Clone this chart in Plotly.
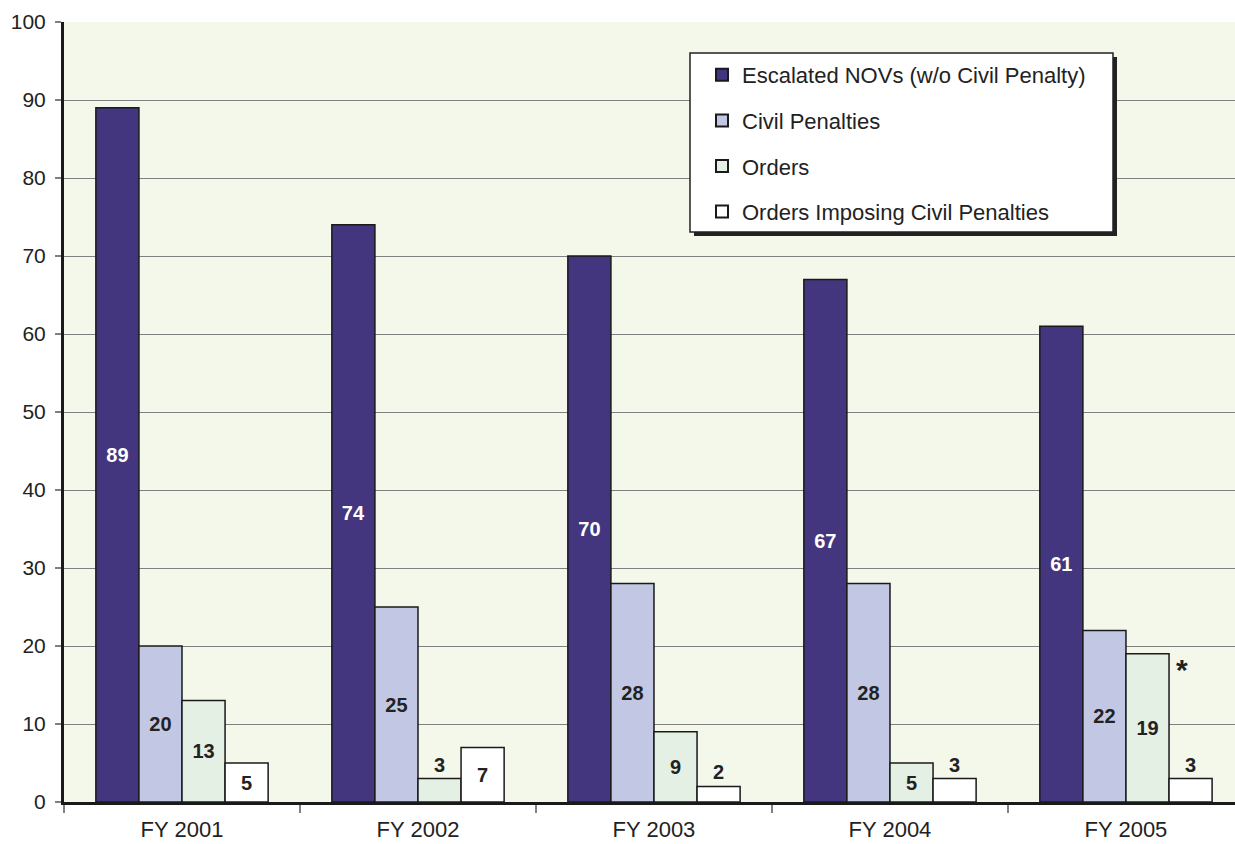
import plotly.graph_objects as go

categories = ["FY 2001", "FY 2002", "FY 2003", "FY 2004", "FY 2005"]
escalated_novs = [89, 74, 70, 67, 61]
civil_penalties = [20, 25, 28, 28, 22]
orders = [13, 3, 9, 5, 19]
orders_imposing = [5, 7, 2, 3, 3]

series = [
    ("Escalated NOVs (w/o Civil Penalty)", escalated_novs, "#43357E", "white"),
    ("Civil Penalties", civil_penalties, "#C2C8E3", "#222222"),
    ("Orders", orders, "#E5F0E4", "#222222"),
    ("Orders Imposing Civil Penalties", orders_imposing, "#FFFFFF", "#222222"),
]

FONT = "Arial, Liberation Sans, sans-serif"

fig = go.Figure()
for i, (name, vals, color, tcolor) in enumerate(series):
    positions = ["inside" if v >= 5 else "outside" for v in vals]
    fig.add_trace(go.Bar(
        x=categories, y=vals, name=name,
        marker=dict(color=color, line=dict(color="#1a1a1a", width=1.5)),
        text=[str(v) for v in vals],
        textposition=positions,
        insidetextanchor="middle",
        textangle=0,
        insidetextfont=dict(family=FONT, size=20, color=tcolor, weight="bold"),
        outsidetextfont=dict(family=FONT, size=20, color="#222222", weight="bold"),
        cliponaxis=False,
        legendgroup=f"g{i}",
    ))

# asterisk next to FY 2005 Orders bar
fig.add_annotation(x=categories[4], y=orders[4], xref="x", yref="y",
                   text="*", showarrow=False, xshift=56, yshift=-16,
                   font=dict(family=FONT, size=30, color="#222222", weight="bold"))

# legend box with shadow (pixel positions converted to paper coords)
px_w = 1235 - 64
px_h = 802 - 22
def px(xp):
    return (xp - 64) / px_w
def py(yp):
    return 1 - (yp - 22) / px_h
fig.add_shape(type="rect", xref="paper", yref="paper",
              x0=px(694), x1=px(1117), y0=py(236), y1=py(57),
              fillcolor="#222222", line=dict(width=0), layer="above")
fig.add_shape(type="rect", xref="paper", yref="paper",
              x0=px(690), x1=px(1113), y0=py(232), y1=py(53),
              fillcolor="white", line=dict(color="#222222", width=1.5), layer="above")

fig.update_layout(
    width=1235, height=844,
    margin=dict(l=64, r=0, t=22, b=42),
    paper_bgcolor="white",
    plot_bgcolor="#F3F8EA",
    barmode="group",
    bargap=0.27,
    bargroupgap=0,
    font=dict(family=FONT, size=22, color="#222222"),
    legend=dict(
        x=px(702), y=py(54), xanchor="left", yanchor="top",
        bgcolor="rgba(0,0,0,0)", borderwidth=0,
        font=dict(family=FONT, size=22, color="#222222"),
        traceorder="grouped", tracegroupgap=14,
        itemsizing="constant",
    ),
    showlegend=True,
)
fig.update_xaxes(
    type="category", range=[-0.5, 4.462],
    showline=True, linecolor="#1a1a1a", linewidth=3,
    ticks="outside", tickson="boundaries", ticklen=8, tickcolor="#808080", tickwidth=1.5,
    ticklabelstandoff=6,
    showgrid=False,
    tickfont=dict(family=FONT, size=22, color="#222222"),
)
fig.update_yaxes(
    range=[0, 100], dtick=10,
    showline=True, linecolor="#1a1a1a", linewidth=3,
    ticks="outside", ticklen=6, tickcolor="#808080", tickwidth=1.5,
    ticklabelstandoff=5,
    showgrid=True, gridcolor="#808080", gridwidth=1,
    zeroline=False,
    tickfont=dict(family=FONT, size=21, color="#222222"),
)

fig.write_html("out.html", config={"displayModeBar": False},
               post_script="document.body.style.margin='0';document.body.style.overflow='hidden';")
